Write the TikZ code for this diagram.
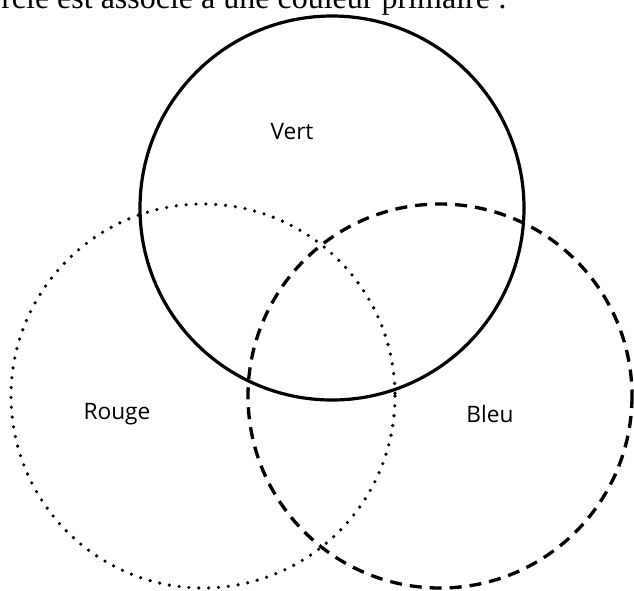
\documentclass[tikz,border=0pt]{standalone}
\usepackage{fontspec}
\setmainfont{Liberation Serif}
\newfontfamily\labelfont{Open Sans}

\begin{document}
\begin{tikzpicture}[
  x=0.75pt, y=-0.75pt,
  vertcircle/.style={draw, line width=2.4pt},
  rougecircle/.style={draw, line width=2.7pt, line cap=round, dash pattern=on 0pt off 7.4pt},
  bleucircle/.style={draw, line width=2.5pt, dash pattern=on 9pt off 6pt},
  colourlabel/.style={font=\labelfont\fontsize{17}{20}\selectfont, anchor=base, inner sep=0pt}
]
\useasboundingbox[fill=white] (0,0) rectangle (634,590);
\clip (0,0) rectangle (634,590);

\node[anchor=base west, inner sep=0pt, font=\fontsize{24}{28}\selectfont] (caption) at (1,8)
  {rcle est associé à une couleur primaire :};

\draw[vertcircle]  (332,208) circle[radius=192];
\draw[rougecircle] (203,396) circle[radius=192];
\draw[bleucircle]  (440,396) circle[radius=192];

\node[colourlabel] (vert)  at (292,139) {Vert};
\node[colourlabel] (rouge) at (117,419) {Rouge};
\node[colourlabel] (bleu)  at (490,422) {Bleu};

\end{tikzpicture}
\end{document}
